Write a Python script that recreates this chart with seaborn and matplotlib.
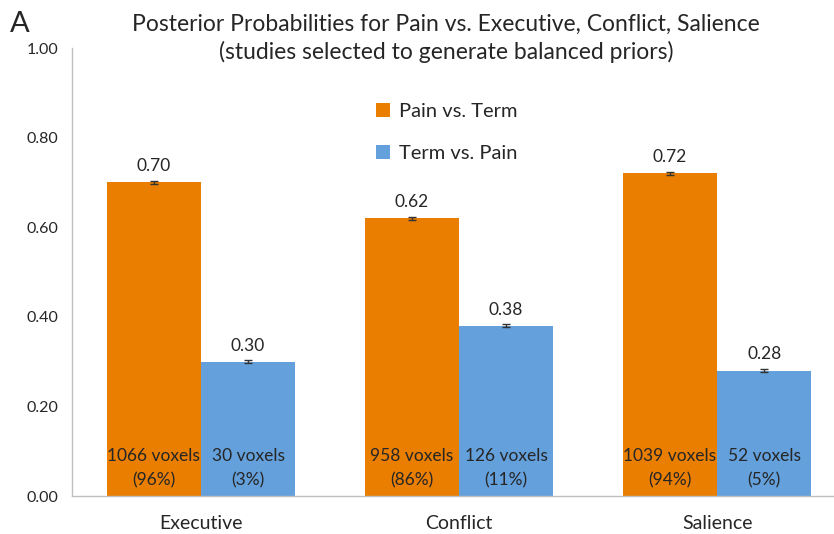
import pandas as pd
import seaborn as sns
import matplotlib.pyplot as plt

# data
networks = ["Executive", "Conflict", "Salience"]
contrasts = ["Pain vs. Term", "Term vs. Pain"]
pain_vs_term = [0.70, 0.62, 0.72]
term_vs_pain = [0.30, 0.38, 0.28]
pain_err = [0.003, 0.003, 0.003]
term_err = [0.003, 0.003, 0.003]
pain_voxels = ["1066 voxels\n(96%)", "958 voxels\n(86%)", "1039 voxels\n(94%)"]
term_voxels = ["30 voxels\n(3%)", "126 voxels\n(11%)", "52 voxels\n(5%)"]
yticks = [0.0, 0.2, 0.4, 0.6, 0.8, 1.0]

ORANGE = "#E97E00"
BLUE = "#64A0DC"

df = pd.DataFrame({
    "network": networks * 2,
    "contrast": [contrasts[0]] * 3 + [contrasts[1]] * 3,
    "prob": pain_vs_term + term_vs_pain,
    "err": pain_err + term_err,
    "voxels": pain_voxels + term_voxels,
})

sns.set_style("white")
plt.rcParams["font.family"] = ["Lato", "DejaVu Sans"]

fig = plt.figure(figsize=(8.34, 5.34), dpi=100)
ax = fig.add_axes([72 / 834, 38 / 534, 762 / 834, 448 / 534])

sns.barplot(data=df, x="network", y="prob", hue="contrast", order=networks,
            hue_order=contrasts, palette=[ORANGE, BLUE], saturation=1,
            width=0.73, errorbar=None, linewidth=0, ax=ax)

# bars come out hue by hue, in network order
bars = [p for p in ax.patches if p.get_height() > 0][:6]
for bar, (_, row) in zip(bars, df.iterrows()):
    cx = bar.get_x() + bar.get_width() / 2
    ax.errorbar(cx, row["prob"], yerr=row["err"], color="#333333",
                capsize=3, elinewidth=1, capthick=1)
    ax.text(cx, row["prob"] + 0.018, f"{row['prob']:.2f}", ha="center",
            va="bottom", fontsize=12.5)
    ax.text(cx, 0.016, row["voxels"], ha="center", va="bottom",
            fontsize=12.5, linespacing=1.65)

ax.set_xlim(-0.5, 2.453)
ax.set_ylim(0, 1.0)
ax.set_yticks(yticks)
ax.set_yticklabels([f"{t:.2f}" for t in yticks], fontsize=11.5)
ax.tick_params(axis="x", labelsize=14, length=0, pad=14)
ax.tick_params(axis="y", length=0, pad=10)
ax.set_xlabel("")
ax.set_ylabel("")
sns.despine(ax=ax, top=True, right=True)
for side in ["left", "bottom"]:
    ax.spines[side].set_color("#BFBFBF")
    ax.spines[side].set_linewidth(1)

leg = ax.legend(loc="upper left", bbox_to_anchor=(0.375, 0.918), frameon=False,
                fontsize=14.5, handlelength=0.7, handleheight=0.7,
                labelspacing=1.25, handletextpad=0.45)

fig.text(0.535, 0.955, "Posterior Probabilities for Pain vs. Executive, Conflict, Salience",
         ha="center", va="center", fontsize=16.5)
fig.text(0.535, 0.902, "(studies selected to generate balanced priors)",
         ha="center", va="center", fontsize=16.5)
fig.text(0.012, 0.955, "A", ha="left", va="center", fontsize=21)

fig.savefig("out.png", dpi=100)
